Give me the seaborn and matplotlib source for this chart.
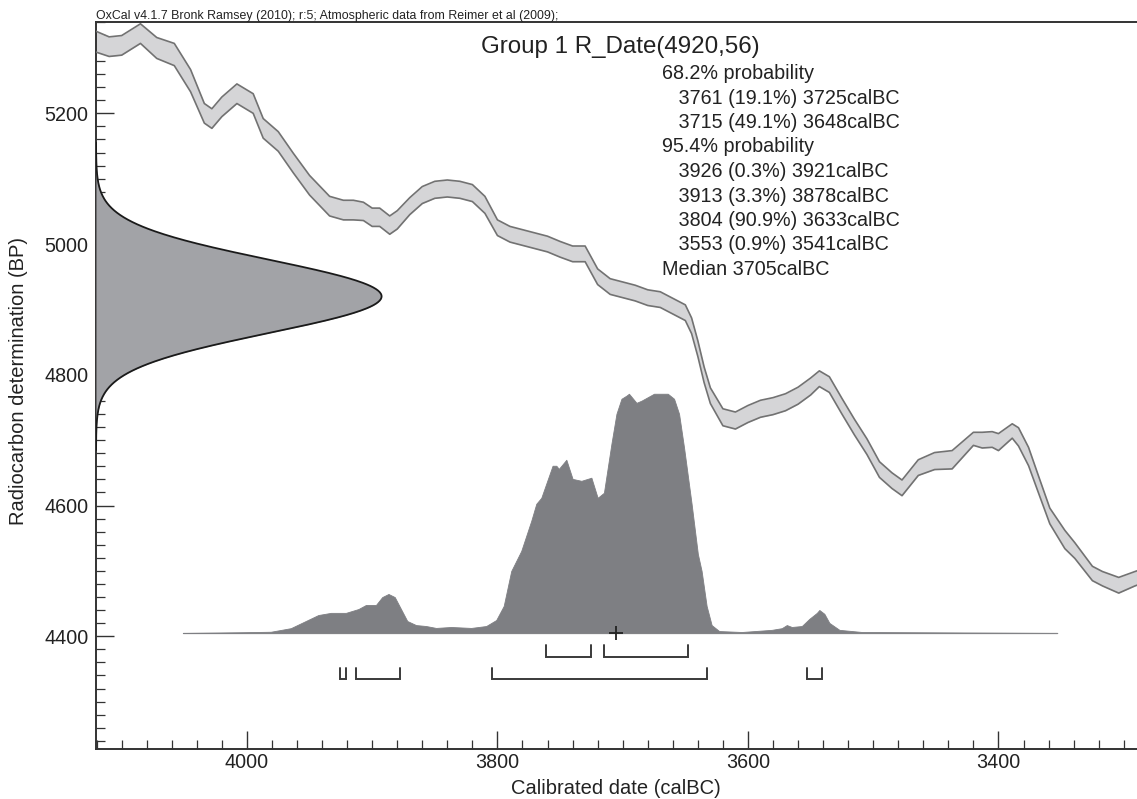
import numpy as np
import pandas as pd
import matplotlib
matplotlib.use("Agg")
import matplotlib.pyplot as plt
from matplotlib.ticker import MultipleLocator
import seaborn as sns

# ---------------- data ----------------
# calibration curve (calBC, BP centre, 1-sigma)
cal_year = [4121, 4110, 4100, 4085, 4072, 4058, 4045, 4034, 4028, 4020, 4008, 3995,
            3987, 3975, 3963, 3950, 3934, 3923, 3915, 3907, 3900, 3894, 3886, 3880,
            3870, 3860, 3850, 3840, 3830, 3820, 3810, 3800, 3790, 3780, 3770, 3760,
            3750, 3740, 3730, 3720, 3710, 3700, 3690, 3680, 3670, 3660, 3650, 3645,
            3640, 3635, 3630, 3620, 3610, 3600, 3590, 3580, 3570, 3560, 3550, 3543,
            3535, 3525, 3515, 3505, 3495, 3485, 3477, 3464, 3451, 3437, 3420, 3413,
            3405, 3400, 3389, 3384, 3376, 3368, 3359, 3347, 3339, 3325, 3317, 3304,
            3291, 3288]
cal_bp = [5310, 5302, 5304, 5322, 5300, 5290, 5250, 5200, 5192, 5210, 5230, 5215,
          5177, 5157, 5124, 5090, 5058, 5052, 5052, 5050, 5041, 5041, 5029, 5037,
          5058, 5075, 5083, 5085, 5083, 5078, 5060, 5025, 5015, 5010, 5005, 5000,
          4992, 4985, 4985, 4950, 4935, 4930, 4925, 4918, 4915, 4905, 4895, 4875,
          4840, 4800, 4768, 4735, 4730, 4740, 4748, 4752, 4758, 4768, 4782, 4794,
          4785, 4752, 4720, 4690, 4655, 4638, 4627, 4658, 4668, 4670, 4702, 4700,
          4701, 4697, 4714, 4705, 4675, 4632, 4584, 4548, 4531, 4496, 4488, 4478,
          4488, 4490]
cal_err = [16, 15, 15, 15, 16, 17, 17, 15, 15, 15, 15, 15,
           15, 15, 15, 15, 15, 15, 15, 14, 14, 14, 14, 14,
           13, 13, 13, 13, 13, 13, 13, 12, 12, 12, 12, 12,
           12, 12, 12, 12, 12, 12, 12, 12, 12, 12, 12, 12,
           12, 12, 12, 13, 13, 13, 13, 13, 13, 13, 13, 12,
           12, 12, 12, 12, 12, 12, 12, 12, 13, 14, 10, 12,
           12, 13, 11, 14, 14, 13, 12, 14, 12, 11, 11, 12,
           11, 11]

# radiocarbon determination
r_mean = 4920
r_sd = 56

# calibrated probability (relative)
dist_year = [4051, 4005, 3981, 3965, 3953, 3943, 3933, 3921, 3911, 3905, 3897, 3892,
             3887, 3882, 3877, 3872, 3865, 3857, 3849, 3837, 3821, 3809, 3801, 3795,
             3789, 3781, 3773, 3769, 3765, 3756, 3753, 3751, 3745, 3740, 3733, 3725,
             3720, 3715, 3709, 3705, 3701, 3697, 3695, 3689, 3685, 3675, 3664, 3659,
             3655, 3651, 3645, 3640, 3637, 3633, 3629, 3623, 3605, 3581, 3573, 3569,
             3565, 3557, 3551, 3545, 3543, 3539, 3535, 3527, 3509, 3353]
dist_rel = [0.0, 0.003, 0.005, 0.02, 0.05, 0.075, 0.084, 0.084, 0.10, 0.117, 0.117, 0.15,
            0.163, 0.15, 0.10, 0.05, 0.033, 0.029, 0.021, 0.025, 0.021, 0.029, 0.054, 0.113,
            0.259, 0.343, 0.469, 0.54, 0.565, 0.699, 0.699, 0.686, 0.724, 0.644, 0.636, 0.649,
            0.565, 0.586, 0.791, 0.916, 0.979, 0.992, 1.0, 0.962, 0.971, 1.0, 1.0, 0.979,
            0.916, 0.774, 0.54, 0.33, 0.259, 0.113, 0.033, 0.008, 0.004, 0.013, 0.02, 0.033,
            0.025, 0.029, 0.059, 0.084, 0.096, 0.08, 0.042, 0.013, 0.004, 0.0]

range68 = [(3761, 3725), (3715, 3648)]
range95 = [(3926, 3921), (3913, 3878), (3804, 3633), (3553, 3541)]
median_year = 3705

header = "OxCal v4.1.7 Bronk Ramsey (2010); r:5; Atmospheric data from Reimer et al (2009);"
title = "Group 1 R_Date(4920,56)"
info_lines = ["68.2% probability",
              "   3761 (19.1%) 3725calBC",
              "   3715 (49.1%) 3648calBC",
              "95.4% probability",
              "   3926 (0.3%) 3921calBC",
              "   3913 (3.3%) 3878calBC",
              "   3804 (90.9%) 3633calBC",
              "   3553 (0.9%) 3541calBC",
              "Median 3705calBC"]
x_ticks = [4000, 3800, 3600, 3400]
y_ticks = [4400, 4600, 4800, 5000, 5200]

# ---------------- layout constants ----------------
W, H = 1137, 799
XL, XR = 4120.5, 3289.4
YB, YT = 4227.0, 5340.5
base_bp = 4405.0
peak_h = 366.0
gauss_w = 228.0

sns.set_theme(style="white")
plt.rcParams['font.family'] = ['Liberation Sans', 'DejaVu Sans']
tc = "#222222"

fig = plt.figure(figsize=(W / 100, H / 100), dpi=100)
ax = fig.add_axes([96 / W, 1 - 749.3 / H, 1041 / W, (749.3 - 21.5) / H])
ax.set_xlim(XL, XR)
ax.set_ylim(YB, YT)

# calibration curve band
cal = pd.DataFrame({"year": cal_year, "bp": cal_bp, "err": cal_err})
cal["hi"] = cal["bp"] + cal["err"]
cal["lo"] = cal["bp"] - cal["err"]
ax.fill_between(cal["year"], cal["lo"], cal["hi"], color="#d5d5d7", lw=0, zorder=2)
sns.lineplot(data=cal, x="year", y="hi", ax=ax, color="#727272", lw=1.2,
             estimator=None, sort=False, zorder=3)
sns.lineplot(data=cal, x="year", y="lo", ax=ax, color="#727272", lw=1.2,
             estimator=None, sort=False, zorder=3)

# radiocarbon gaussian
gy = np.linspace(r_mean - 4.2 * r_sd, r_mean + 4.2 * r_sd, 400)
gx = XL - gauss_w * np.exp(-0.5 * ((gy - r_mean) / r_sd) ** 2)
ax.fill_betweenx(gy, XL, gx, color="#a2a3a7", lw=0, zorder=4)
gdf = pd.DataFrame({"x": gx, "y": gy})
sns.lineplot(data=gdf, x="x", y="y", ax=ax, color="#1a1a1a", lw=1.3,
             estimator=None, sort=False, zorder=5)

# calibrated distribution
dist = pd.DataFrame({"year": dist_year, "rel": dist_rel})
dist["bp"] = base_bp + dist["rel"] * peak_h
ax.fill_between(dist["year"], base_bp, dist["bp"], color="#7e7f83", lw=0.6,
                edgecolor="#7e7f83", zorder=4)
ax.plot([dist_year[0], dist_year[-1]], [base_bp, base_bp], color="#b0b0b0",
        lw=1.0, zorder=3)
ax.plot([median_year], [base_bp], marker="+", color="#222222", ms=10, mew=1.3,
        zorder=6)

# range brackets
def bracket(a, b, top, bot):
    ax.plot([a, a, b, b], [top, bot, bot, top], color="#3a3a3a", lw=1.4,
            solid_joinstyle="miter", zorder=6)

for a, b in range68:
    bracket(a, b, 4386, 4368)
for a, b in range95:
    bracket(a, b, 4351, 4334)

# axes styling
for s in ["left", "bottom", "top"]:
    ax.spines[s].set_visible(True)
    ax.spines[s].set_color("#333333")
    ax.spines[s].set_linewidth(1.4)
ax.spines["right"].set_visible(False)
ax.set_xticks(x_ticks)
ax.set_yticks(y_ticks)
ax.xaxis.set_minor_locator(MultipleLocator(20))
ax.yaxis.set_minor_locator(MultipleLocator(20))
ax.tick_params(which="major", direction="in", length=13, width=1.0, color="#333333",
               labelsize=14.2, labelcolor=tc)
ax.tick_params(which="minor", direction="in", length=6.5, width=0.9, color="#333333")
ax.tick_params(axis="x", which="both", bottom=True, top=False, pad=3)
ax.tick_params(axis="y", which="both", left=True, right=False, pad=5.5)
ax.set_xlabel("")
ax.set_ylabel("")
ax.grid(False)

# texts
fig.text(96 / W, 1 - 19 / H, header, fontsize=8.9, color=tc, ha="left", va="baseline")
fig.text(481 / W, 1 - 53.5 / H, title, fontsize=17.4, color=tc, ha="left", va="baseline")
y0 = 79.0
for i, line in enumerate(info_lines):
    fig.text(661.7 / W, 1 - (y0 + i * 24.5) / H, line, fontsize=14.2, color=tc,
             ha="left", va="baseline")
fig.text(616 / W, 1 - 794 / H, "Calibrated date (calBC)", fontsize=14.5, color=tc,
         ha="center", va="baseline")
fig.text(19 / W, 1 - 381 / H, "Radiocarbon determination (BP)", fontsize=14.5,
         color=tc, ha="center", va="center", rotation=90)

fig.savefig("out.png", dpi=100)
